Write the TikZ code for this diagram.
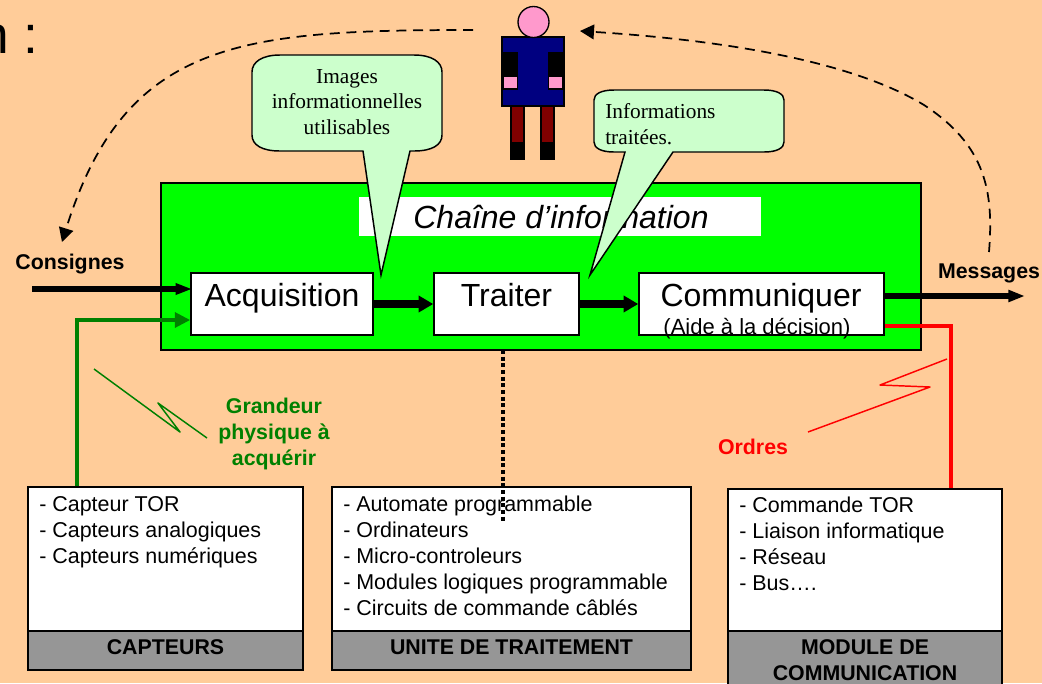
\documentclass[tikz,border=0pt]{standalone}
\usepackage{fontspec}
\setmainfont{Liberation Sans}
\newfontfamily\bubblefont{Liberation Serif}
\usetikzlibrary{arrows.meta}
\definecolor{fond}{HTML}{FFCC99}
\definecolor{bulle}{HTML}{CCFFCC}
\definecolor{gris}{HTML}{969696}
\definecolor{vert}{HTML}{008000}
\definecolor{chaine}{HTML}{00FF00}
\definecolor{rose}{HTML}{FF99CC}
\definecolor{marine}{HTML}{000080}
\definecolor{bordeaux}{HTML}{800000}
\tikzset{
  box/.style={draw=black,line width=1.1pt,fill=white,inner sep=0pt},
  grisbox/.style={draw=black,line width=1.1pt,fill=gris,inner sep=0pt},
  bigtext/.style={inner sep=0pt,anchor=base,font=\fontsize{24}{28}\selectfont},
  listtext/.style={inner sep=0pt,anchor=north west,align=left,font=\fontsize{16.1}{19.4}\selectfont},
  boldtext/.style={inner sep=0pt,align=center,font=\fontsize{16}{19.5}\selectfont\bfseries},
  bubbletext/.style={inner sep=0pt,font=\fontsize{16}{19}\selectfont\bubblefont},
  bubble/.style={draw=black,line width=1.1pt,fill=bulle,line join=miter},
  dashedarrow/.style={line width=1.3pt,dash pattern=on 7.5pt off 5pt,-{Triangle[length=10.5pt,width=11pt]}},
  fatarrow/.style={line width=5.5pt,-{Triangle[length=11pt,width=12pt]}},
  thinzigzag/.style={line width=1.1pt,line join=round}
}
\begin{document}
\begin{tikzpicture}[x=0.75pt,y=-0.75pt]
    \useasboundingbox (0,0) rectangle (1042,683);
    \fill[fond] (0,0) rectangle (1042,683);

    \node[inner sep=0pt,anchor=base east,font=\fontsize{40}{46}\selectfont] (titre) at (39,53) {n :};

    \node[draw=black,line width=1.1pt,fill=chaine,inner sep=0pt,minimum width=760*0.75pt,minimum height=167*0.75pt] (chaine) at (541,266.5) {};
    \node[fill=white,inner sep=0pt,minimum width=402*0.75pt,minimum height=39*0.75pt] (bandeau) at (560,216.5) {};
    \node[bigtext,font=\fontsize{24}{28}\selectfont\itshape] (titrechaine) at (561,228) {Chaîne d’information};

    \node[box,minimum width=182*0.75pt,minimum height=62*0.75pt] (acquisition) at (282,304) {};
    \node[box,minimum width=145*0.75pt,minimum height=62*0.75pt] (traiter) at (506.5,304) {};
    \node[box,minimum width=245*0.75pt,minimum height=62*0.75pt] (communiquer) at (761.5,304) {};
    \node[bigtext] (acquisitiontxt) at (282,306) {Acquisition};
    \node[bigtext] (traitertxt) at (506.5,306) {Traiter};
    \node[bigtext] (communiquertxt) at (761,306) {Communiquer};
    \node[inner sep=0pt,anchor=base,font=\fontsize{16.5}{19}\selectfont] (aidetxt) at (757,334) {(Aide à la décision)};

    \coordinate (consignesdebut) at (32,289);
    \coordinate (messagesfin) at (1025,296);
    \draw[line width=4.5pt,-{Triangle[length=12.5pt,width=8pt]}] (consignesdebut) -- ([xshift=1.5pt]consignesdebut -| acquisition.west);
    \draw[fatarrow] (acquisition.east) -- (traiter.west);
    \draw[fatarrow] (traiter.east) -- (communiquer.west);
    \draw[line width=3.8pt,-{Triangle[length=12.5pt,width=8.5pt]}] (messagesfin -| communiquer.east) -- (messagesfin);

    \node[box,minimum width=275*0.75pt,minimum height=144*0.75pt] (capteurs) at (165.5,559) {};
    \node[grisbox,minimum width=275*0.75pt,minimum height=39*0.75pt] (capteursnom) at (165.5,650.5) {};
    \node[box,minimum width=359*0.75pt,minimum height=144*0.75pt] (unite) at (511.5,559) {};
    \node[grisbox,minimum width=359*0.75pt,minimum height=39*0.75pt] (unitenom) at (511.5,650.5) {};
    \node[box,minimum width=274*0.75pt,minimum height=142*0.75pt] (module) at (865,560) {};
    \node[grisbox,minimum width=274*0.75pt,minimum height=60*0.75pt] (modulenom) at (865,661) {};

    \node[listtext] (capteursliste) at (39,496) {- Capteur TOR\\- Capteurs analogiques\\- Capteurs numériques};
    \node[listtext] (uniteliste) at (343,496) {- Automate programmable\\- Ordinateurs\\- Micro-controleurs\\- Modules logiques programmable\\- Circuits de commande câblés};
    \node[listtext] (moduleliste) at (739,497) {- Commande TOR\\- Liaison informatique\\- Réseau\\- Bus….};
    \node[boldtext] (capteurstxt) at (165.5,647) {CAPTEURS};
    \node[boldtext] (unitetxt) at (511.5,647) {UNITE DE TRAITEMENT};
    \node[boldtext,anchor=north] (moduletxt) at (865,639) {MODULE DE\\COMMUNICATION};

    \coordinate (vertcoude) at (77,320);
    \draw[vert,line width=3pt,-{Triangle[length=11.5pt,width=11pt]}] (vertcoude |- capteurs.north) -- (vertcoude) -- (vertcoude -| acquisition.west);
    \coordinate (rougecoude) at (951,326);
    \draw[red,line width=3pt] (rougecoude -| communiquer.east) -- (rougecoude) -- (rougecoude |- module.north);
    \draw[line width=3pt,dotted] (503,350) -- (503,522);

    \draw[vert,thinzigzag] (94,369) -- (180,432) -- (158,403) -- (207,438);
    \draw[red,thinzigzag] (947,359) -- (880,385) -- (930,387) -- (808,432);

    \node[boldtext,text=vert] (grandeur) at (274,434) {Grandeur\\physique à\\acquérir};
    \node[boldtext,text=red] (ordres) at (753,447) {Ordres};
    \node[boldtext] (consignes) at (70,264) {Consignes};
    \node[boldtext] (messages) at (989,273) {Messages};

    \draw[bubble] (363,151) -- (381,275) -- (410,151) -- (414,151) .. controls (432,151) and (442,145) .. (442,135) -- (442,72) .. controls (442,62) and (432,55) .. (414,55) -- (280,55) .. controls (262,55) and (252,62) .. (252,72) -- (252,135) .. controls (252,145) and (262,151) .. (280,151) -- cycle;
    \node[bubbletext,align=center] (imagestxt) at (347,102) {Images\\informationnelles\\utilisables};
    \draw[bubble] (625,152) -- (590,275) -- (673,152) -- (764,152) .. controls (777,152) and (784,148) .. (784,142) -- (784,100) .. controls (784,94) and (777,90) .. (764,90) -- (614,90) .. controls (601,90) and (594,94) .. (594,100) -- (594,142) .. controls (594,148) and (601,152) .. (614,152) -- cycle;
    \node[bubbletext,align=left,anchor=west] (infotxt) at (605,124) {Informations\\traitées.};

    \draw[fill=marine,line width=1pt] (502,37) rectangle (564,106);
    \fill (503,52) rectangle (518,90);
    \fill (548,52) rectangle (563,90);
    \fill[rose] (504,77) rectangle (517,88);
    \fill[rose] (549,77) rectangle (562,88);
    \draw[fill=bordeaux,line width=1pt] (511,106) rectangle (524,143);
    \draw[fill=bordeaux,line width=1pt] (541,106) rectangle (554,143);
    \fill (510,143) rectangle (525,160);
    \fill (540,143) rectangle (555,160);
    \draw[fill=rose,line width=1pt] (533.5,22) circle (15.5);

    \coordinate (hautgauche) at (473,30);
    \coordinate (consignesfleche) at (62,242);
    \coordinate (messagesdebut) at (989,252);
    \coordinate (hautdroite) at (580,31);
    \draw[dashedarrow] (hautgauche) .. controls (240,30) and (125,40) .. (consignesfleche);
    \draw[dashedarrow] (messagesdebut) .. controls (994,190) and (985,145) .. (924,105) .. controls (850,60) and (720,40) .. (hautdroite);
\end{tikzpicture}
\end{document}
